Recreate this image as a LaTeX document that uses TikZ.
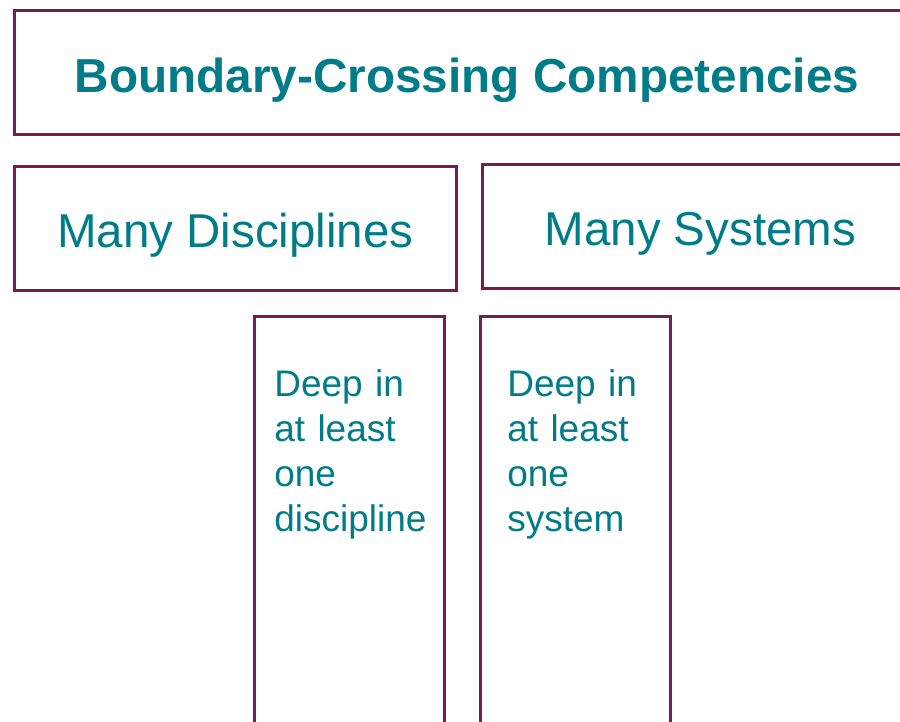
\documentclass[tikz,border=0pt]{standalone}
\usepackage{fontspec}
\setmainfont{Liberation Sans}

\definecolor{boxline}{RGB}{122,26,80}
\definecolor{boxtext}{RGB}{0,124,137}

\begin{document}
\begin{tikzpicture}[x=1pt, y=-1pt,
    box/.style={draw=boxline, line width=2.7pt, text=boxtext, inner sep=0pt, anchor=north west},
    headbox/.style={box, minimum height=124pt, text depth=0pt},
    deepbox/.style={box, align=left, text height=80pt, text depth=340pt, font=\fontsize{37}{45}\selectfont}]

    \useasboundingbox (0,0) rectangle (900,722);
    \clip (0,0) rectangle (900,722);

    % top row
    \node[headbox, minimum width=905pt, text height=41pt, font=\fontsize{47.7}{57}\selectfont\bfseries] (title) at (13,9) {Boundary-Crossing Competencies};

    % second row
    \node[headbox, minimum width=442pt, text height=38pt, font=\fontsize{47.5}{57}\selectfont] (disciplines) at (13,165) {Many Disciplines};
    \node[headbox, minimum width=436pt, text height=38pt, font=\fontsize{47.5}{57}\selectfont] (systems) at (481,163) {Many Systems};

    % the deep columns
    \node[deepbox, text width=150pt, inner xsep=20pt] (deepdisc) at (253,315) {Deep in\\at least\\one\\discipline};
    \node[deepbox, text width=136pt, inner xsep=27pt] (deepsys) at (479,315) {Deep in\\at least\\one\\system};

\end{tikzpicture}
\end{document}
